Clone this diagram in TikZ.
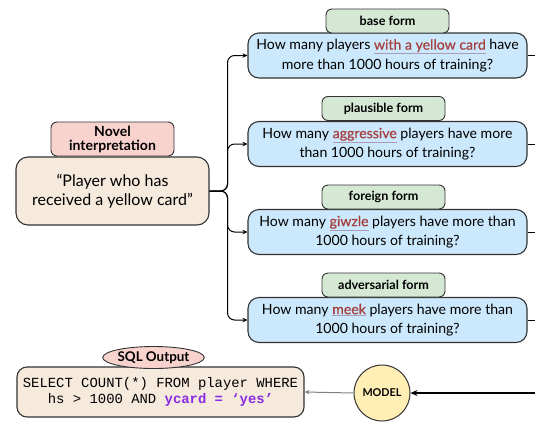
\documentclass[tikz,border=0pt]{standalone}
\usepackage{fontspec}
\setmainfont{Lato}
\setmonofont{Liberation Mono}
\usetikzlibrary{arrows.meta,shapes.geometric,calc}
\definecolor{qblue}{HTML}{CCE8FC}
\definecolor{lgreen}{HTML}{D5E8D4}
\definecolor{lpink}{HTML}{F8D3CE}
\definecolor{lbeige}{HTML}{F5EADC}
\definecolor{lyellow}{HTML}{FFEFB5}
\definecolor{bordc}{HTML}{333333}
\definecolor{hlred}{HTML}{A5403F}
\definecolor{ulc}{HTML}{A99AB5}
\definecolor{sqlpurple}{HTML}{8A2BE2}
\newcommand{\hlw}[1]{{\color{ulc}\underline{\textcolor{hlred}{\addfontfeature{FakeBold=0.6}#1}}}}
\tikzset{
  qbox/.style={draw=bordc, line width=1.1pt, fill=qblue, rounded corners=11pt,
    minimum width=279pt, minimum height=45pt, align=center, inner sep=2pt,
    font=\fontsize{14.1}{19.5}\selectfont},
  formlabel/.style={draw=bordc, line width=0.9pt, fill=lgreen, rounded corners=6pt,
    minimum width=123pt, minimum height=24pt, inner sep=1pt,
    font=\fontsize{12.6}{14}\selectfont\bfseries},
  beigebox/.style={draw=bordc, line width=1.1pt, fill=lbeige, rounded corners=12pt, align=center, inner sep=2pt},
  pinkbox/.style={draw=bordc, line width=0.9pt, fill=lpink, align=center, inner sep=1pt},
  conn/.style={draw=black, line width=1pt, -{Stealth[length=5pt,width=4.5pt]}},
  outline/.style={draw=black, line width=0.8pt}
}
\begin{document}
\begin{tikzpicture}[x=1pt,y=-1pt]
\useasboundingbox (0,0) rectangle (535,421);
% question boxes
\node[qbox] (q1) at (387.5,55.5) {How many players \hlw{with a yellow card} have\\more than 1000 hours of training?};
\node[qbox] (q2) at (387.5,144) {How many \hlw{aggressive} players have more\\than 1000 hours of training?};
\node[qbox] (q3) at (387.5,232) {How many \hlw{giwzle} players have more than\\1000 hours of training?};
\node[qbox] (q4) at (387.5,320) {How many \hlw{meek} players have more than\\1000 hours of training?};
% form labels
\node[formlabel] (l1) at (387.5,21) {base form};
\node[formlabel] (l2) at (383.5,108.5) {plausible form};
\node[formlabel] (l3) at (383.5,197) {foreign form};
\node[formlabel] (l4) at (383.5,285) {adversarial form};
% left box
\node[beigebox, minimum width=193pt, minimum height=68pt, font=\fontsize{16}{19.5}\selectfont] (src) at (112.5,191) {“Player who has\\received a yellow card”};
\node[pinkbox, rounded corners=6pt, minimum width=123pt, minimum height=34pt, font=\fontsize{14}{14}\selectfont\bfseries] (novel) at (112.5,139) {Novel\\interpretation};
% SQL
\node[beigebox, rounded corners=10pt, minimum width=287pt, minimum height=50pt, font=\fontsize{13.9}{15.5}\selectfont\ttfamily] (sql) at (160.5,392) {SELECT COUNT(*) FROM player WHERE\\hs > 1000 AND \textcolor{sqlpurple}{\bfseries ycard = ‘yes’}};
\node[pinkbox, ellipse, minimum width=91pt, minimum height=22pt, inner sep=0pt, font=\fontsize{13.4}{14}\selectfont\bfseries] (sqlout) at (153.5,357.5) {SQL Output};
% model
\node[circle, draw=bordc, line width=1pt, fill=lyellow, minimum size=56pt, inner sep=0pt, font=\fontsize{10.8}{12}\selectfont\bfseries] (model) at (382,393) {MODEL};
\coordinate (inR) at (535,393);
% brace connectors
\foreach \q in {q1,q2,q3,q4}{
  \draw[conn, rounded corners=7pt] (src.east) -- ($(src.east)+(18,0)$) |- (\q.west);
}
% outgoing lines
\foreach \q in {q1,q2,q3,q4}{
  \coordinate (\q o) at ($(\q.east)+(8,0)$);
  \draw[outline] (\q.east) -- (\q o);
}
\draw[line width=2pt, -{Stealth[length=7pt,width=6pt]}] (inR) -- (model.east);
\draw[draw=gray, line width=1pt, -{Stealth[length=5pt,width=4.5pt]}, ] (model.west) -- (sql.east);
\end{tikzpicture}
\end{document}
